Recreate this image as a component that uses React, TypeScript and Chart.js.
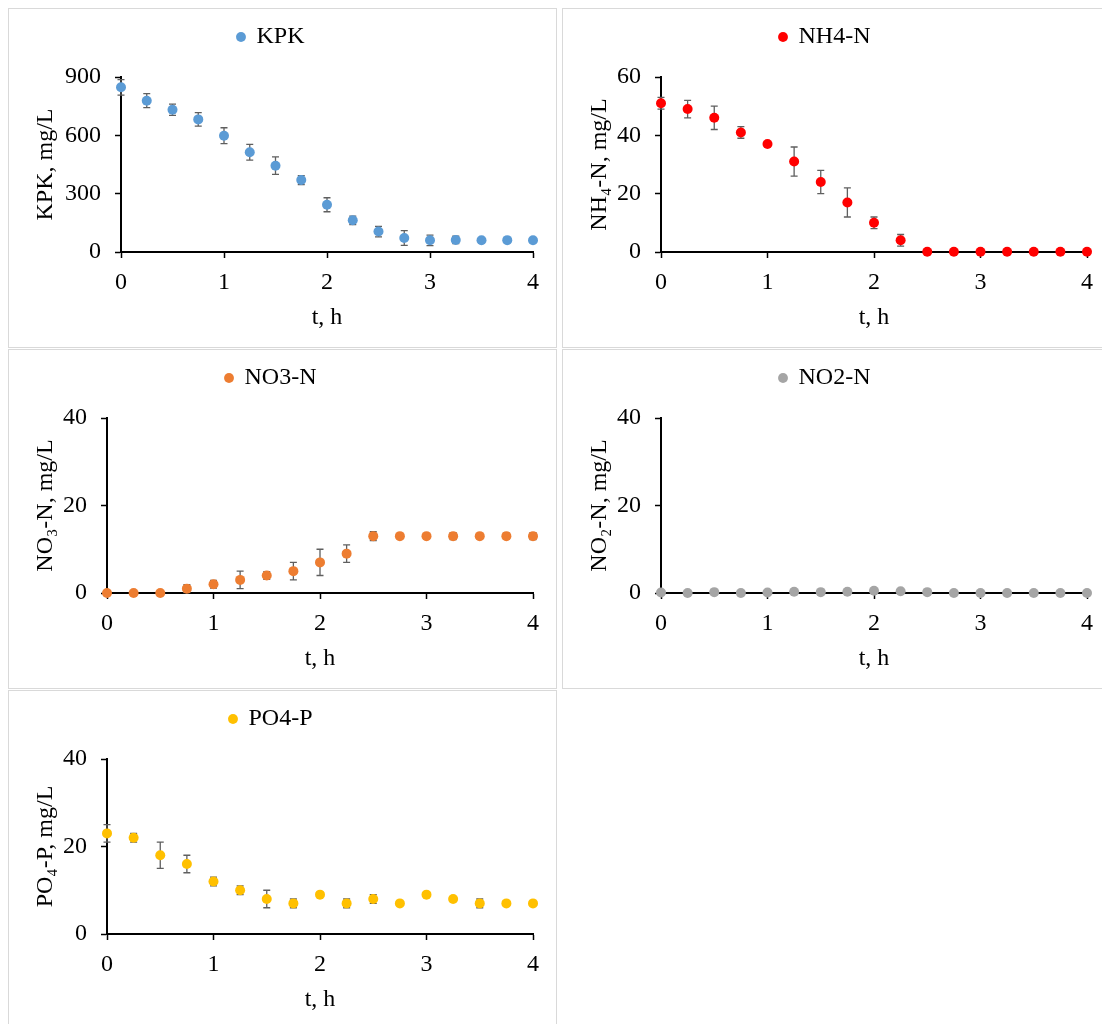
import React, { useEffect, useRef } from "react";
import { Chart, registerables } from "chart.js";

Chart.register(...registerables);

// ---- data ----
const TIME_H = [0, 0.25, 0.5, 0.75, 1, 1.25, 1.5, 1.75, 2, 2.25, 2.5, 2.75, 3, 3.25, 3.5, 3.75, 4];

const KPK = [847, 778, 732, 682, 598, 513, 444, 370, 243, 163, 105, 72, 60, 62, 60, 61, 60];
const KPK_ERR = [40, 36, 29, 35, 41, 40, 45, 23, 36, 22, 27, 38, 27, 19, 0, 0, 0];

const NH4 = [51, 49, 46, 41, 37, 31, 24, 17, 10, 4, 0.1, 0.1, 0.1, 0.1, 0.1, 0.1, 0.1];
const NH4_ERR = [2, 3, 4, 2, 0.6, 5, 4, 5, 2, 2, 0, 0, 0, 0, 0, 0, 0];

const NO3 = [0, 0, 0, 1, 2, 3, 4, 5, 7, 9, 13, 13, 13, 13, 13, 13, 13];
const NO3_ERR = [0, 0, 0, 0.9, 0.9, 2, 0.9, 2, 3, 2, 1, 0.3, 0.3, 0.8, 0.3, 0.7, 0.8];

const NO2 = [0.1, 0, 0.2, 0, 0.1, 0.3, 0.2, 0.3, 0.5, 0.4, 0.2, 0, 0, 0, 0, 0, 0];
const NO2_ERR = [0, 0, 0, 0, 0, 0, 0, 0, 0, 0, 0, 0, 0, 0, 0, 0, 0];

const PO4 = [23, 22, 18, 16, 12, 10, 8, 7, 9, 7, 8, 7, 9, 8, 7, 7, 7];
const PO4_ERR = [2, 1, 3, 2, 1, 1, 2, 1, 0, 1, 1, 0, 0, 0.5, 1, 0.5, 0];

const X_TITLE = "t, h";
const X_MIN = 0;
const X_MAX = 4;
const X_STEP = 1;

type PanelDef = {
  label: string;
  yTitle: string;
  values: number[];
  errors: number[];
  color: string;
  yMax: number;
  yStep: number;
  left: number;
  top: number;
  yAxisWidth: number;
};

const PANELS: PanelDef[] = [
  { label: "KPK", yTitle: "KPK, mg/L", values: KPK, errors: KPK_ERR, color: "#5B9BD5", yMax: 900, yStep: 300, left: 0, top: 0, yAxisWidth: 112 },
  { label: "NH4-N", yTitle: "NH\u2084-N, mg/L", values: NH4, errors: NH4_ERR, color: "#FF0000", yMax: 60, yStep: 20, left: 554, top: 0, yAxisWidth: 98 },
  { label: "NO3-N", yTitle: "NO\u2083-N, mg/L", values: NO3, errors: NO3_ERR, color: "#ED7D31", yMax: 40, yStep: 20, left: 0, top: 341, yAxisWidth: 98 },
  { label: "NO2-N", yTitle: "NO\u2082-N, mg/L", values: NO2, errors: NO2_ERR, color: "#A5A5A5", yMax: 40, yStep: 20, left: 554, top: 341, yAxisWidth: 98 },
  { label: "PO4-P", yTitle: "PO\u2084-P, mg/L", values: PO4, errors: PO4_ERR, color: "#FFC000", yMax: 40, yStep: 20, left: 0, top: 682, yAxisWidth: 98 },
];

const PANEL_W = 549;
const PANEL_H = 340;
const CANVAS_W = PANEL_W - 2;
const CANVAS_H = PANEL_H - 2;
const FONT_FAMILY = "'Liberation Serif', 'Times New Roman', serif";
const TEXT_COLOR = "#000000";

const errorBarsPlugin = {
  id: "errorBars",
  beforeDatasetsDraw(chart: any, _args: any, opts: any) {
    const errs: number[] = opts.errors || [];
    const { ctx, scales } = chart;
    const xs = scales.x;
    const ys = scales.y;
    const ds = chart.data.datasets[0];
    ctx.save();
    ctx.strokeStyle = opts.color || "#666";
    ctx.lineWidth = 1.3;
    ds.data.forEach((p: any, i: number) => {
      const e = errs[i];
      if (!e) return;
      const px = xs.getPixelForValue(p.x);
      const yTop = ys.getPixelForValue(p.y + e);
      const yBot = ys.getPixelForValue(Math.max(p.y - e, ys.min));
      ctx.beginPath();
      ctx.moveTo(px, yTop);
      ctx.lineTo(px, yBot);
      ctx.moveTo(px - 3.5, yTop);
      ctx.lineTo(px + 3.5, yTop);
      ctx.moveTo(px - 3.5, yBot);
      ctx.lineTo(px + 3.5, yBot);
      ctx.stroke();
    });
    ctx.restore();
  },
};

const legendSpacerPlugin = {
  id: "legendSpacer",
  beforeLayout(chart: any, _args: any, opts: any) {
    const lg = chart.legend;
    if (lg && !lg.__spaced) {
      const orig = lg.fit;
      lg.fit = function () {
        orig.call(this);
        this.height += opts.extra || 0;
      };
      lg.__spaced = true;
    }
  },
};

function Panel({ def }: { def: PanelDef }) {
  const ref = useRef<HTMLCanvasElement | null>(null);
  useEffect(() => {
    if (!ref.current) return;
    const points = TIME_H.map((t, i) => ({ x: t, y: def.values[i] }));
    const chart = new Chart(ref.current, {
      type: "scatter",
      data: {
        datasets: [
          {
            label: def.label,
            data: points,
            backgroundColor: def.color,
            borderColor: def.color,
            pointRadius: 5,
            pointBorderWidth: 0,
            pointStyle: "circle",
            clip: false as any,
          },
        ],
      },
      plugins: [errorBarsPlugin, legendSpacerPlugin],
      options: {
        animation: false,
        responsive: false,
        devicePixelRatio: 1,
        layout: { padding: { top: 6, left: 0, right: 23, bottom: 0 } },
        plugins: {
          legend: {
            display: true,
            position: "top",
            align: "center",
            labels: {
              usePointStyle: true,
              pointStyle: "circle",
              boxWidth: 7,
              boxHeight: 7,
              padding: 10,
              color: TEXT_COLOR,
              font: { family: FONT_FAMILY, size: 24 },
            },
          },
          tooltip: { enabled: false },
          errorBars: { errors: def.errors, color: "#5f5f5f" },
          legendSpacer: { extra: 18 },
        } as any,
        scales: {
          x: {
            type: "linear",
            min: X_MIN,
            max: X_MAX,
            afterFit(scale: any) {
              scale.height = CANVAS_H - 243;
            },
            ticks: {
              stepSize: X_STEP,
              color: TEXT_COLOR,
              padding: 10,
              font: { family: FONT_FAMILY, size: 24 },
            },
            grid: {
              drawOnChartArea: false,
              drawTicks: true,
              tickLength: 6,
              tickWidth: 1.5,
              tickColor: "#000",
            },
            border: { display: true, color: "#000", width: 2 },
            title: {
              display: true,
              text: X_TITLE,
              color: TEXT_COLOR,
              font: { family: FONT_FAMILY, size: 24 },
              padding: { top: 0, bottom: 15 },
            },
          },
          y: {
            type: "linear",
            min: 0,
            max: def.yMax,
            afterFit(scale: any) {
              scale.width = def.yAxisWidth;
            },
            ticks: {
              stepSize: def.yStep,
              color: TEXT_COLOR,
              padding: 14,
              font: { family: FONT_FAMILY, size: 24 },
            },
            grid: {
              drawOnChartArea: false,
              drawTicks: true,
              tickLength: 6,
              tickWidth: 1.5,
              tickColor: "#000",
            },
            border: { display: true, color: "#000", width: 2 },
            title: {
              display: true,
              text: def.yTitle,
              color: TEXT_COLOR,
              font: { family: FONT_FAMILY, size: 24 },
              padding: { top: 22, bottom: 0 },
            },
          },
        },
      } as any,
    });
    return () => chart.destroy();
  }, [def]);

  return (
    <div
      style={{
        position: "absolute",
        left: def.left,
        top: def.top,
        width: PANEL_W,
        height: PANEL_H,
        border: "1px solid #d9d9d9",
        boxSizing: "border-box",
        background: "#fff",
      }}
    >
      <canvas ref={ref} width={CANVAS_W} height={CANVAS_H} style={{ display: "block" }} />
    </div>
  );
}

export default function App() {
  useEffect(() => {
    const html = document.documentElement.style;
    const body = document.body.style;
    const prev = [html.overflow, body.overflow, body.marginRight];
    html.overflow = "hidden";
    body.overflow = "hidden";
    body.marginRight = "0px";
    return () => {
      html.overflow = prev[0];
      body.overflow = prev[1];
      body.marginRight = prev[2];
    };
  }, []);
  return (
    <div style={{ position: "relative", width: 1094, height: 1016, overflow: "hidden" }}>
      {PANELS.map((p) => (
        <Panel key={p.label} def={p} />
      ))}
    </div>
  );
}
